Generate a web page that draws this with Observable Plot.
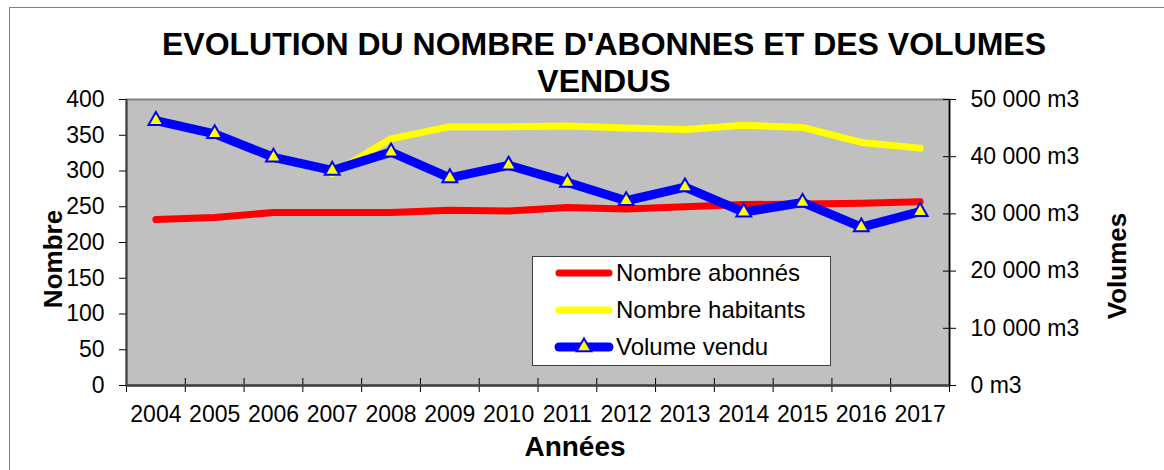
<!DOCTYPE html>
<html><head><meta charset="utf-8">
<script src="https://cdn.jsdelivr.net/npm/d3@7"></script>
<script src="https://cdn.jsdelivr.net/npm/@observablehq/plot@0.6"></script>
<style>
body{margin:0;background:#fff;font-family:"Liberation Sans",Arial,sans-serif;}
#wrap{position:relative;width:1164px;height:470px;overflow:hidden;background:#fff;}
#outer{position:absolute;left:9px;top:7px;width:1200px;height:500px;border-left:1px solid #808080;border-top:1px solid #808080;}
#chart{position:absolute;left:0;top:0;}
.title{position:absolute;left:0;width:1208px;text-align:center;font-weight:bold;font-size:32px;line-height:37px;color:#000;white-space:nowrap;}
.axt{position:absolute;font-weight:bold;color:#000;white-space:nowrap;line-height:1;transform:translate(-50%,-50%);}
#legend{position:absolute;left:532px;top:256px;width:297px;height:108px;background:#fff;border:1px solid #404040;}
.lg{position:absolute;left:616px;font-size:24px;line-height:24px;color:#000;white-space:nowrap;}
</style></head><body>
<div id="wrap">
  <div id="outer"></div>
  <div id="chart"></div>
  <div class="title" style="top:26px">EVOLUTION DU NOMBRE D'ABONNES ET DES VOLUMES</div>
  <div class="title" style="top:63px">VENDUS</div>
  <div class="axt" style="left:53px;top:259px;font-size:26px;transform:translate(-50%,-50%) rotate(-90deg)">Nombre</div>
  <div class="axt" style="left:1117px;top:266px;font-size:26px;transform:translate(-50%,-50%) rotate(-90deg)">Volumes</div>
  <div class="axt" style="left:575px;top:447px;font-size:28px;">Années</div>
  <div id="legend"></div>
</div>
<script>
const years = [2004, 2005, 2006, 2007, 2008, 2009, 2010, 2011, 2012, 2013, 2014, 2015, 2016, 2017];
const abonnes = [232, 235, 242, 242, 242, 245, 244, 249, 247, 250, 253, 254, 255, 257];
const habitants = [null, null, null, 296, 345, 362, 362, 363, 360, 358, 364, 361, 340, 332];
const volumes = [46300, 44000, 39900, 37600, 40800, 36300, 38500, 35500, 32300, 34700, 30300, 32000, 27700, 30400];
const nombreTicks = [0, 50, 100, 150, 200, 250, 300, 350, 400];
const volumeTicks = [0, 10000, 20000, 30000, 40000, 50000];
const seriesNames = ["Nombre abonnés", "Nombre habitants", "Volume vendu"];
const seriesColors = ["#FF0000", "#FFFF00", "#0000FF"];

const ratio = volumeTicks[volumeTicks.length - 1] / nombreTicks[nombreTicks.length - 1];
const rows = years.map((y, i) => ({year: y, abonnes: abonnes[i], habitants: habitants[i], volume: volumes[i] / ratio}));
const xmin = years[0] - 0.5, xmax = years[years.length - 1] + 0.5;
const bounds = years.map(y => y - 0.5).concat([xmax]);
const fmt = v => d3.format(",")(Math.round(v)).replace(/,/g, " ") + " m3";
const triR = 5.5;

const plot = Plot.plot({
  width: 1164, height: 470,
  marginLeft: 126, marginRight: 215, marginTop: 99, marginBottom: 85,
  x: {domain: [xmin, xmax], axis: null},
  y: {domain: [0, nombreTicks[nombreTicks.length - 1]], axis: null},
  style: {fontFamily: "Liberation Sans, Arial, sans-serif", fontSize: "23px", color: "#000", background: "transparent", overflow: "visible"},
  marks: [
    Plot.frame({fill: "#C0C0C0", stroke: "#808080", strokeWidth: 2}),
    Plot.axisY({anchor: "left", ticks: nombreTicks, tickSize: 7, tickPadding: 15, label: null, tickFormat: d => String(d), stroke: "#000"}),
    Plot.axisY({anchor: "right", ticks: volumeTicks.map(v => v / ratio), tickSize: 6, tickPadding: 15, label: null, tickFormat: d => fmt(d * ratio), stroke: "#000"}),
    Plot.ruleY(volumeTicks.map(v => v / ratio), {x1: xmax, x2: xmax, insetLeft: -6, stroke: "#000"}),
    Plot.axisX({ticks: years, tickSize: 0, tickPadding: 20, label: null, tickFormat: d => String(d)}),
    Plot.ruleX(bounds, {y1: 0, y2: 0, insetTop: -7, insetBottom: -7, stroke: "#000"}),
    Plot.ruleX([xmin], {stroke: "#404040", strokeWidth: 2}),
    Plot.ruleY([0], {stroke: "#404040", strokeWidth: 2.5}),
    Plot.ruleX([xmax], {stroke: "#000", strokeWidth: 1.5}),
    Plot.line(rows, {x: "year", y: "abonnes", stroke: seriesColors[0], strokeWidth: 7, strokeLinecap: "round", strokeLinejoin: "round"}),
    Plot.line(rows, {x: "year", y: "habitants", stroke: seriesColors[1], strokeWidth: 7, strokeLinecap: "round", strokeLinejoin: "round"}),
    Plot.line(rows, {x: "year", y: "volume", stroke: seriesColors[2], strokeWidth: 9, strokeLinecap: "round", strokeLinejoin: "round"}),
    Plot.dot(rows, {x: "year", y: "volume", symbol: "triangle", r: triR, fill: "#FFFF00", stroke: "#0000FF", strokeWidth: 2})
  ]
});
document.getElementById("chart").appendChild(plot);

// Legend
const wrap = d3.select("#wrap");
const rowsY = [273, 310, 347];
const lsvg = wrap.append("svg").attr("width", 1164).attr("height", 470)
  .style("position", "absolute").style("left", "0px").style("top", "0px").style("pointer-events", "none");
seriesNames.forEach((name, i) => {
  lsvg.append("line").attr("x1", 559).attr("x2", 609).attr("y1", rowsY[i]).attr("y2", rowsY[i])
    .attr("stroke", seriesColors[i]).attr("stroke-width", i === 2 ? 9 : 7).attr("stroke-linecap", "round");
  if (i === 2) {
    lsvg.append("path").attr("transform", `translate(584,${rowsY[i]})`)
      .attr("d", d3.symbol(d3.symbolTriangle, Math.PI * triR * triR)())
      .attr("fill", "#FFFF00").attr("stroke", "#0000FF").attr("stroke-width", 2);
  }
  wrap.append("div").attr("class", "lg").style("top", (rowsY[i] - 12) + "px").text(name);
});
</script>
</body></html>
